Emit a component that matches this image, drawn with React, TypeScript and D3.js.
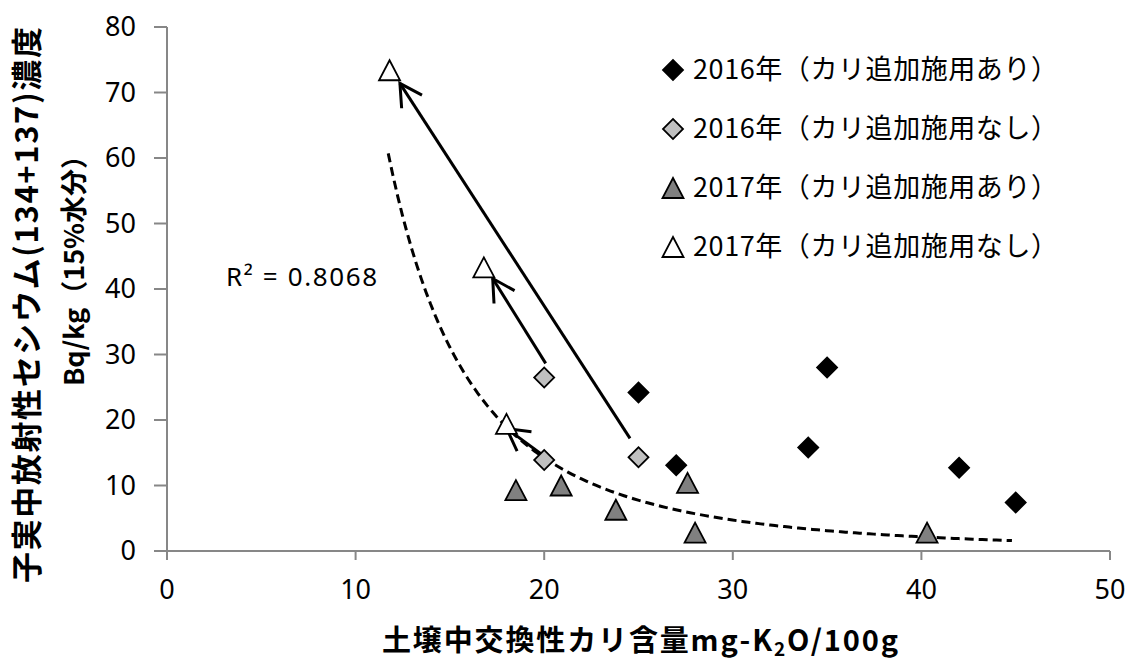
import * as d3 from "d3";

const WIDTH = 1131;
const HEIGHT = 661;
// plot area in page pixels
const PLOT = { left: 167, right: 1110, top: 27, bottom: 551 };

// [soil exchangeable K (mg-K2O/100g), grain Cs (Bq/kg)]
const ari2016 = [[25, 24.2], [27, 13.1], [34, 15.8], [35, 28.0], [42, 12.7], [45, 7.4]];
const nashi2016 = [[20, 26.5], [20, 13.9], [25, 14.3]];
const ari2017 = [[18.5, 9.3], [20.9, 10.0], [23.8, 6.3], [27.6, 10.4], [28.0, 2.8], [40.3, 2.8]];
const nashi2017 = [[11.8, 73.4], [16.8, 43.3], [18.0, 19.4]];

const legendLabels = [
  "2016年（カリ追加施用あり）",
  "2016年（カリ追加施用なし）",
  "2017年（カリ追加施用あり）",
  "2017年（カリ追加施用なし）",
];

const xTicks = [0, 10, 20, 30, 40, 50];
const yTicks = [0, 10, 20, 30, 40, 50, 60, 70, 80];

// hand drawn arrows (tail -> head), in data units
const arrows = [
  { from: [24.55, 17.2], to: [12.35, 71.4] },
  { from: [20.08, 28.65], to: [17.27, 41.6] },
  { from: [20.04, 14.4], to: [18.01, 18.7] },
];

// power trendline y = a * x^b as drawn in the chart
const trendCoef = { a: 49170, b: -2.72 };
const trendRange = [11.73, 44.8];
const r2Text = "R² = 0.8068";

const JP = "'Noto Sans CJK JP', 'Noto Sans', sans-serif";
const NUM = "'Noto Sans', sans-serif";

const diamondPath = d3.symbol(d3.symbolSquare, 200)();
const trianglePath = "M0,-10L10.5,10L-10.5,10Z";

const series = [
  { label: legendLabels[0], data: ari2016, shape: "diamond", fill: "#000000" },
  { label: legendLabels[1], data: nashi2016, shape: "diamond", fill: "#c0c0c0" },
  { label: legendLabels[2], data: ari2017, shape: "triangle", fill: "#808080" },
  { label: legendLabels[3], data: nashi2017, shape: "triangle", fill: "#ffffff" },
];

const Marker = ({ x, y, shape, fill }) =>
  shape === "diamond" ? (
    <path
      d={diamondPath}
      transform={`translate(${x},${y}) rotate(45)`}
      fill={fill}
      stroke="#000"
      strokeWidth={1.8}
    />
  ) : (
    <path
      d={trianglePath}
      transform={`translate(${x},${y})`}
      fill={fill}
      stroke="#000"
      strokeWidth={1.8}
    />
  );

export default function App() {
  const xScale = d3.scaleLinear().domain([0, 50]).range([PLOT.left, PLOT.right]);
  const yScale = d3.scaleLinear().domain([0, 80]).range([PLOT.bottom, PLOT.top]);

  const trendFn = (x) => trendCoef.a * Math.pow(x, trendCoef.b);
  const trendXs = d3.range(trendRange[0], trendRange[1], 0.25).concat([trendRange[1]]);
  const trendPath = d3
    .line()
    .x((x) => xScale(x))
    .y((x) => yScale(trendFn(x)))(trendXs);

  const arrowShapes = arrows.map((ar, i) => {
    const x1 = xScale(ar.from[0]);
    const y1 = yScale(ar.from[1]);
    const x2 = xScale(ar.to[0]);
    const y2 = yScale(ar.to[1]);
    const ang = Math.atan2(y1 - y2, x1 - x2);
    const len = 25;
    const spread = (29 * Math.PI) / 180;
    const h1 = [x2 + len * Math.cos(ang + spread), y2 + len * Math.sin(ang + spread)];
    const h2 = [x2 + len * Math.cos(ang - spread), y2 + len * Math.sin(ang - spread)];
    return (
      <g key={i} stroke="#000" strokeWidth={3} fill="none">
        <line x1={x1} y1={y1} x2={x2} y2={y2} />
        <path d={`M${h1[0]},${h1[1]}L${x2},${y2}L${h2[0]},${h2[1]}`} />
      </g>
    );
  });

  return (
    <div style={{ position: "absolute", left: 0, top: 0, background: "#fff" }}>
      <svg width={WIDTH} height={HEIGHT} style={{ display: "block" }}>
        <rect width={WIDTH} height={HEIGHT} fill="#fff" />

        {/* axes */}
        <g stroke="#878787" strokeWidth={2}>
          <line x1={PLOT.left} x2={PLOT.left} y1={PLOT.top} y2={PLOT.bottom} />
          <line x1={PLOT.left - 13} x2={PLOT.right} y1={PLOT.bottom} y2={PLOT.bottom} />
          {yTicks.map((t) => (
            <line key={t} x1={PLOT.left - 13} x2={PLOT.left} y1={yScale(t)} y2={yScale(t)} />
          ))}
          {xTicks.map((t) => (
            <line key={t} x1={xScale(t)} x2={xScale(t)} y1={PLOT.bottom} y2={PLOT.bottom + 9} />
          ))}
        </g>
        <g fontFamily={NUM} fontSize={27} fill="#000">
          {yTicks.map((t) => (
            <text key={t} x={PLOT.left - 31} y={yScale(t)} dy="0.35em" textAnchor="end">
              {t}
            </text>
          ))}
          {xTicks.map((t) => (
            <text key={t} x={xScale(t)} y={PLOT.bottom + 39} dy="0.35em" textAnchor="middle">
              {t}
            </text>
          ))}
        </g>

        {/* axis titles */}
        <text
          x={640}
          y={641}
          dy="0.35em"
          textAnchor="middle"
          fontFamily={JP}
          fontWeight={700}
          fontSize={29}
          textLength={516}
          lengthAdjust="spacing"
        >
          土壌中交換性カリ含量mg-K
          <tspan fontSize={19} dy="0.25em">2</tspan>
          <tspan dy="-0.17em">O/100g</tspan>
        </text>
        <g fontFamily={JP} fontWeight={700} textAnchor="middle">
          <text
            transform="translate(27,305) rotate(-90)"
            dy="0.35em"
            fontSize={31}
            textLength={556}
            lengthAdjust="spacing"
          >
            子実中放射性セシウム(134+137)濃度
          </text>
          <text transform="translate(75,264) rotate(-90)" dy="0.35em" fontSize={27}>
            Bq/kg（15%水分）
          </text>
        </g>

        {/* trendline */}
        <path d={trendPath} fill="none" stroke="#000" strokeWidth={3} strokeDasharray="9,5" />

        {/* arrows */}
        {arrowShapes}

        {/* points */}
        {series.map((s) =>
          s.data.map((d, i) => (
            <Marker key={s.label + i} x={xScale(d[0])} y={yScale(d[1])} shape={s.shape} fill={s.fill} />
          ))
        )}

        <text
          x={226}
          y={277}
          dy="0.35em"
          fontFamily={NUM}
          fontSize={26}
          textLength={151}
          lengthAdjust="spacing"
        >
          {r2Text}
        </text>

        {/* legend */}
        {series.map((s, i) => {
          const ly = 70 + i * 59;
          return (
            <g key={s.label}>
              <Marker x={673} y={ly} shape={s.shape} fill={s.fill} />
              <text
                x={693}
                y={ly}
                dy="0.35em"
                fontFamily={JP}
                fontSize={27}
                textLength={365}
                lengthAdjust="spacing"
              >
                {s.label}
              </text>
            </g>
          );
        })}
      </svg>
    </div>
  );
}
